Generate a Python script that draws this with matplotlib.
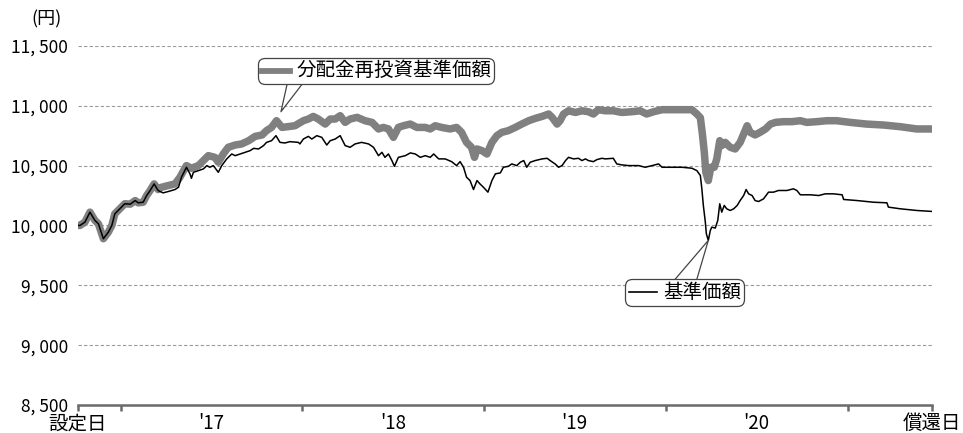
import matplotlib
matplotlib.use("Agg")
import matplotlib.pyplot as plt
from matplotlib.lines import Line2D
from matplotlib.offsetbox import AnnotationBbox, DrawingArea, TextArea, HPacker
import pandas as pd

plt.rcParams['font.family'] = ['Noto Sans CJK JP', 'DejaVu Sans']

# 設定日
start = pd.Timestamp("2016-10-07")

# 基準価額 (days since start, yen)
nav_days = [0, 4, 14, 24, 34, 41, 51, 61, 68, 74, 84, 94, 105, 115, 121, 131, 138, 145, 153, 161,
            171, 181, 195, 202, 208, 218, 225, 228, 232, 242, 252, 259, 265, 272, 282, 289, 299, 309,
            316, 326, 336, 346, 353, 363, 373, 379, 389, 398, 406, 416, 426, 443, 446, 453, 463, 470,
            480, 490, 500, 507, 517, 527, 537, 547, 557, 570, 584, 594, 604, 611, 617, 624, 631, 636,
            644, 658, 668, 678, 688, 698, 708, 715, 725, 738, 751, 761, 768, 775, 781, 788, 795, 802,
            808, 815, 824, 832, 839, 849, 855, 865, 872, 882, 889, 896, 902, 909, 919, 933, 943, 949,
            959, 966, 973, 980, 986, 996, 1006, 1013, 1020, 1026, 1036, 1043, 1053, 1060, 1076, 1083,
            1093, 1107, 1127, 1140, 1154, 1167, 1174, 1194, 1214, 1234, 1244, 1251, 1254, 1257, 1261,
            1263, 1267, 1271, 1274, 1281, 1286, 1290, 1294, 1299, 1304, 1311, 1318, 1325, 1331, 1338,
            1343, 1348, 1355, 1361, 1368, 1378, 1388, 1398, 1408, 1425, 1438, 1445, 1452, 1472, 1489,
            1502, 1519, 1536, 1539, 1566, 1599, 1626, 1629, 1653, 1686, 1717]
nav_vals = [10000, 10000, 10028, 10111, 10042, 10014, 9889, 9944, 10000, 10097, 10139, 10181, 10178,
            10208, 10189, 10194, 10250, 10292, 10347, 10292, 10272, 10283, 10300, 10319, 10403, 10486,
            10431, 10394, 10444, 10458, 10472, 10500, 10486, 10500, 10444, 10500, 10556, 10597, 10583,
            10597, 10611, 10625, 10644, 10639, 10667, 10694, 10708, 10750, 10694, 10689, 10700, 10694,
            10681, 10722, 10744, 10722, 10750, 10736, 10672, 10708, 10722, 10750, 10667, 10653, 10681,
            10694, 10681, 10653, 10583, 10611, 10569, 10597, 10542, 10494, 10569, 10583, 10606, 10597,
            10569, 10583, 10569, 10597, 10556, 10556, 10533, 10500, 10533, 10486, 10403, 10375, 10300,
            10375, 10347, 10319, 10278, 10375, 10431, 10439, 10486, 10494, 10514, 10500, 10528, 10542,
            10486, 10528, 10542, 10556, 10561, 10542, 10514, 10486, 10500, 10542, 10569, 10556, 10561,
            10542, 10556, 10542, 10533, 10550, 10561, 10556, 10561, 10514, 10506, 10500, 10500, 10486,
            10500, 10514, 10486, 10486, 10486, 10478, 10458, 10417, 10306, 10167, 10028, 9931, 9875,
            9958, 9986, 9978, 10042, 10181, 10111, 10167, 10139, 10125, 10139, 10167, 10208, 10250,
            10300, 10264, 10250, 10208, 10200, 10222, 10278, 10278, 10292, 10292, 10306, 10292, 10256,
            10256, 10250, 10264, 10264, 10256, 10217, 10208, 10194, 10189, 10153, 10139, 10125, 10117]

# 分配金再投資基準価額 (days since start, yen)
reinv_days = [0, 4, 14, 24, 34, 41, 51, 61, 68, 74, 84, 94, 105, 115, 121, 131, 138, 145, 153, 161,
              168, 181, 195, 205, 218, 228, 242, 252, 262, 275, 282, 292, 302, 316, 329, 343, 356,
              370, 379, 389, 399, 410, 426, 436, 453, 463, 473, 483, 497, 507, 517, 527, 537, 547,
              561, 577, 591, 604, 614, 624, 634, 644, 654, 668, 681, 698, 708, 718, 731, 748, 761,
              771, 781, 791, 797, 802, 812, 822, 832, 842, 852, 865, 879, 892, 906, 919, 933, 946,
              953, 963, 969, 976, 986, 1000, 1013, 1026, 1036, 1046, 1060, 1076, 1093, 1113, 1130,
              1143, 1157, 1174, 1194, 1214, 1234, 1244, 1251, 1255, 1259, 1262, 1267, 1272, 1279,
              1284, 1290, 1294, 1301, 1311, 1321, 1331, 1341, 1345, 1351, 1361, 1371, 1382, 1392,
              1402, 1418, 1435, 1452, 1465, 1485, 1505, 1525, 1552, 1585, 1619, 1653, 1686, 1717]
reinv_vals = [10000, 10000, 10028, 10111, 10042, 10014, 9889, 9944, 10000, 10097, 10139, 10181, 10178,
              10208, 10189, 10194, 10250, 10292, 10347, 10300, 10319, 10333, 10347, 10403, 10500,
              10478, 10500, 10542, 10583, 10569, 10528, 10597, 10653, 10672, 10681, 10708, 10744,
              10756, 10792, 10819, 10875, 10819, 10828, 10833, 10875, 10889, 10911, 10889, 10847,
              10889, 10889, 10917, 10861, 10889, 10903, 10875, 10861, 10806, 10819, 10806, 10736,
              10819, 10833, 10847, 10819, 10819, 10806, 10833, 10819, 10806, 10819, 10778, 10694,
              10653, 10569, 10639, 10625, 10597, 10694, 10750, 10778, 10792, 10819, 10847, 10875,
              10894, 10911, 10931, 10903, 10847, 10875, 10931, 10958, 10944, 10958, 10950, 10931,
              10967, 10958, 10958, 10944, 10950, 10958, 10931, 10950, 10967, 10967, 10967, 10967,
              10931, 10900, 10767, 10608, 10444, 10375, 10486, 10486, 10556, 10708, 10667, 10694,
              10653, 10639, 10694, 10792, 10833, 10778, 10756, 10778, 10806, 10847, 10861, 10867,
              10867, 10875, 10861, 10867, 10875, 10875, 10861, 10847, 10839, 10825, 10806, 10806]

year_ticks = ["2017-01-01", "2018-01-01", "2019-01-01", "2020-01-01", "2021-01-01"]
year_mids = ["2017-07-02", "2018-07-02", "2019-07-02", "2020-07-01"]
year_labels = ["'17", "'18", "'19", "'20"]
y_ticks = [8500, 9000, 9500, 10000, 10500, 11000, 11500]

nav_x = start + pd.to_timedelta(nav_days, unit="D")
reinv_x = start + pd.to_timedelta(reinv_days, unit="D")
end = start + pd.Timedelta(days=nav_days[-1])

fig = plt.figure(figsize=(9.63, 4.33), dpi=100)
ax = fig.add_axes([0.081, 0.0647, 0.887, 0.8293])

ax.plot(reinv_x, reinv_vals, color="#808080", lw=5.4, solid_joinstyle="round",
        solid_capstyle="round", zorder=2)
ax.plot(nav_x, nav_vals, color="black", lw=1.1, zorder=3)

ax.set_xlim(start, end)
ax.set_ylim(8500, 11500)

ax.set_yticks(y_ticks)
ax.set_yticklabels([f"{v:,}".replace(",", ", ") for v in y_ticks], fontsize=12.5)
ax.yaxis.grid(True, linestyle=(0, (3, 2)), color="#9a9a9a", lw=0.8)
ax.set_axisbelow(True)
ax.tick_params(axis="y", length=0, pad=7)

major = [start] + [pd.Timestamp(d) for d in year_ticks] + [end]
ax.set_xticks(major)
ax.set_xticklabels(["設定日", "", "", "", "", "", "償還日"], fontsize=14)
ax.set_xticks([pd.Timestamp(d) for d in year_mids], minor=True)
ax.set_xticklabels(year_labels, minor=True, fontsize=13.5)
ax.tick_params(axis="x", which="major", length=4, width=1.8, color="#6b6b6b", pad=2)
ax.tick_params(axis="x", which="minor", length=0, pad=6)

for s in ["left", "right", "top"]:
    ax.spines[s].set_visible(False)
ax.spines["bottom"].set_color("#6b6b6b")
ax.spines["bottom"].set_linewidth(1.8)

fig.text(0.048, 0.955, "(円)", fontsize=13, ha="center", va="center")


def day(n):
    return start + pd.Timedelta(days=n)


# callouts: rounded box with a wedge pointer
def callout(color, lw, label, tip, base, center, width):
    ax.annotate("", xy=tip, xytext=base, xycoords="data", textcoords="data",
                arrowprops=dict(arrowstyle=f"wedge,tail_width={width}", fc="white",
                                ec="#444444", lw=0.9, mutation_scale=10,
                                shrinkA=0, shrinkB=0),
                zorder=4)
    da = DrawingArea(22, 10, 0, 0)
    da.add_artist(Line2D([1, 21], [5, 5], color=color, lw=lw))
    ta = TextArea(label, textprops=dict(fontsize=14))
    box = HPacker(children=[da, ta], align="center", pad=0, sep=4)
    ab = AnnotationBbox(box, center, xycoords="data", frameon=True, pad=0.2,
                        bboxprops=dict(boxstyle="round,pad=0.2,rounding_size=0.5",
                                       fc="white", ec="#444444", lw=0.9),
                        zorder=5)
    ax.add_artist(ab)


callout("#808080", 4.2, "分配金再投資基準価額",
        (day(408), 10950), (day(440), 11235), (day(599), 11292), 1.2)
callout("black", 1.2, "基準価額",
        (day(1267), 9875), (day(1217), 9492), (day(1219), 9442), 1.6)

fig.savefig("out.png", dpi=100)
